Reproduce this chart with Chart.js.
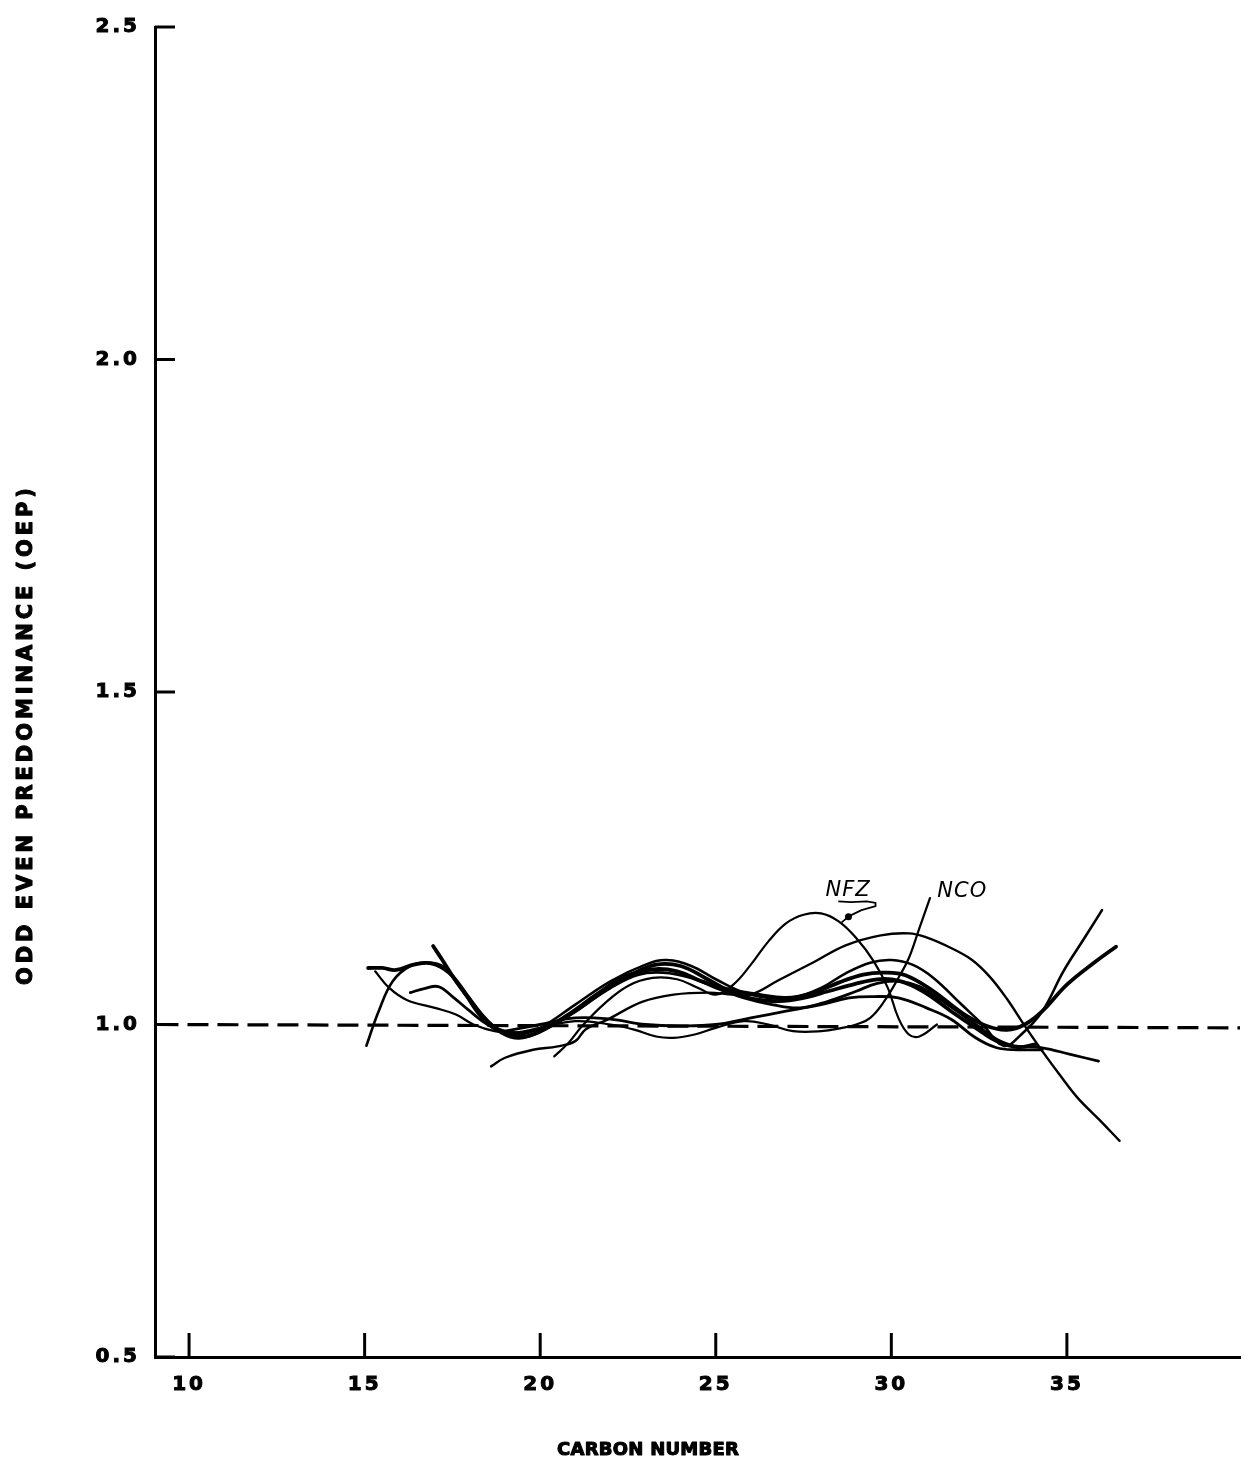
<!DOCTYPE html>
<html>
<head>
<meta charset="utf-8">
<script src="https://cdn.jsdelivr.net/npm/chart.js@4/dist/chart.umd.min.js"></script>
<style>
html,body{margin:0;padding:0;background:#fff;}
#wrap{width:1244px;height:1458px;position:relative;}
canvas{display:block;}
</style>
</head>
<body>
<div id="wrap"><canvas id="c" width="1244" height="1458"></canvas></div>
<script>
// ---------- DATA ----------
const xTickValues = [10, 15, 20, 25, 30, 35];
const yTickValues = [0.5, 1.0, 1.5, 2.0, 2.5];

const refLineCarbon = [9.1, 39.93];
const refLineOep    = [1.0, 0.995];

const c1Carbon = [15.05,15.4,15.8,16.3,16.8,17.3,17.8,18.3,18.8,19.4,20.0,21.0,22.0,23.0,23.6,24.3,25.0,25.8,26.5,27.2,28.0,28.7,29.4,30.0,30.6,31.2,32.0,32.6,33.2,33.7,34.3,34.9,35.5,36.0];
const c1Oep    = [0.968,1.02,1.065,1.088,1.093,1.085,1.05,1.012,0.99,0.985,0.995,1.03,1.065,1.09,1.097,1.088,1.068,1.048,1.04,1.04,1.055,1.077,1.093,1.097,1.09,1.07,1.03,1.0,0.968,0.985,1.02,1.08,1.13,1.172];

const c2Carbon = [15.1,15.5,15.9,16.4,16.9,17.4,17.9,18.4,18.9,19.4,20.0,20.8,21.6,22.4,23.2,23.9,24.6,25.4,26.2,27.0,27.8,28.5,29.2,29.8,30.4,31.2,32.0,32.7,33.3,33.8,34.3,35.0,35.8,36.4];
const c2Oep    = [1.085,1.085,1.082,1.09,1.092,1.078,1.045,1.01,0.988,0.98,0.99,1.015,1.045,1.072,1.083,1.08,1.065,1.052,1.045,1.04,1.048,1.063,1.075,1.078,1.074,1.05,1.018,0.998,0.992,1.0,1.02,1.06,1.094,1.117];

const c3Carbon = [15.3,15.7,16.2,17.0,17.6,18.1,18.7,19.3,20.0,21.0,22.0,22.7,23.3,23.8,24.4,25.0,25.8,26.5,27.2,28.0,28.6,29.0,29.4,29.8,30.2,30.5,30.8,31.1];
const c3Oep    = [1.08,1.055,1.037,1.025,1.015,1.0,0.99,0.988,0.995,1.005,1.0,0.992,0.982,0.98,0.985,0.995,1.005,1.0,0.99,0.99,0.995,1.0,1.01,1.035,1.07,1.1,1.145,1.19];

const c4Carbon = [16.3,16.7,17.1,17.5,18.0,18.5,19.0,19.5,20.2,21.0,22.0,22.8,23.5,24.3,25.0,25.8,26.6,27.4,28.2,29.0,29.6,30.2,30.8,31.6,32.4,33.0,33.5,34.3,35.1,35.9];
const c4Oep    = [1.048,1.054,1.057,1.042,1.02,1.0,0.99,0.988,0.997,1.02,1.055,1.075,1.078,1.07,1.055,1.04,1.03,1.025,1.035,1.05,1.062,1.065,1.057,1.03,1.0,0.978,0.968,0.965,0.955,0.945];

const c5Carbon = [16.95,17.2,17.6,18.1,18.6,19.1,19.6,20.2,21.0,21.8,22.6,23.3,24.0,24.7,25.4,26.1,26.8,27.5,28.2,28.9,29.6,30.2,30.9,31.7,32.4,33.0,33.6,34.1];
const c5Oep    = [1.118,1.098,1.065,1.03,1.0,0.985,0.982,0.995,1.02,1.05,1.075,1.09,1.088,1.07,1.05,1.038,1.035,1.04,1.05,1.06,1.068,1.066,1.05,1.02,0.995,0.975,0.966,0.97];

const c6Carbon = [18.6,19.0,19.8,20.5,21.0,21.3,21.9,22.9,23.8,24.8,25.5,26.0,26.8,27.8,28.7,29.7,30.5,31.0,31.7,32.3,32.8,33.3,33.8,34.3,34.8,35.3,35.9,36.5];
const c6Oep    = [0.937,0.95,0.962,0.967,0.975,0.993,1.007,1.034,1.045,1.048,1.045,1.045,1.067,1.094,1.119,1.134,1.137,1.131,1.115,1.097,1.072,1.038,0.998,0.96,0.924,0.89,0.858,0.825];

const c7Carbon = [20.4,20.8,21.2,21.8,22.5,23.2,23.9,24.5,25.0,25.5,26.0,26.5,27.0,27.5,28.0,28.5,29.0,29.5,29.9,30.2,30.5,30.8,31.3];
const c7Oep    = [0.952,0.972,0.998,1.03,1.058,1.07,1.068,1.055,1.045,1.06,1.09,1.125,1.152,1.165,1.167,1.155,1.13,1.095,1.055,1.01,0.985,0.982,1.0];

const c8Carbon = [19.0,20.0,21.0,22.0,23.0,24.0,25.0,26.0,27.0,28.0,28.8,29.5,30.2,31.0,31.7,32.4,33.0,33.6,34.3];
const c8Oep    = [0.99,1.0,1.01,1.008,1.0,0.998,1.0,1.01,1.02,1.03,1.04,1.042,1.04,1.025,1.008,0.98,0.965,0.962,0.962];

const curveCarbon = [c1Carbon, c2Carbon, c3Carbon, c4Carbon, c5Carbon, c6Carbon, c7Carbon, c8Carbon];
const curveOep    = [c1Oep, c2Oep, c3Oep, c4Oep, c5Oep, c6Oep, c7Oep, c8Oep];
const curveWidths = [2.6, 3.8, 2.2, 2.8, 3.8, 2.4, 2.2, 2.8];

// ---------- helpers ----------
const toPoints = (xs, ys) => xs.map((x, i) => ({x: x, y: ys[i]}));

const datasets = curveCarbon.map((xs, i) => ({
  data: toPoints(xs, curveOep[i]),
  borderColor: '#000',
  borderWidth: curveWidths[i],
  pointRadius: 0,
  tension: 0.4,
  fill: false,
  borderCapStyle: 'round',
  borderJoinStyle: 'round'
}));
datasets.push({
  data: toPoints(refLineCarbon, refLineOep),
  borderColor: '#000',
  borderWidth: 3.2,
  borderDash: [21, 9],
  pointRadius: 0,
  tension: 0,
  fill: false
});

// annotation geometry in data units
const nfzLabel = {text: 'NFZ', x: 28.77, y: 1.201};
const ncoLabel = {text: 'NCO', x: 32.02, y: 1.200};
const nfzLeader = [[28.49,1.185],[28.85,1.184],[29.3,1.185],[29.55,1.183],[29.55,1.178],[29.15,1.172],[28.8,1.163],[28.55,1.152]];
const nfzArrow = [28.78, 1.162];

const FONT = '"DejaVu Sans", "Liberation Sans", sans-serif';

const decorPlugin = {
  id: 'decor',
  beforeDraw(chart) {
    chart.ctx.letterSpacing = '3px';
  },
  afterDraw(chart) {
    const ctx = chart.ctx;
    const xs = chart.scales.x, ys = chart.scales.y;
    ctx.save();
    ctx.letterSpacing = '0px';
    ctx.strokeStyle = '#000';
    ctx.fillStyle = '#000';
    // inward tick marks
    ctx.lineWidth = 3;
    xTickValues.forEach(v => {
      const px = xs.getPixelForValue(v);
      ctx.beginPath(); ctx.moveTo(px, xs.top); ctx.lineTo(px, xs.top - 24); ctx.stroke();
    });
    yTickValues.forEach(v => {
      const py = ys.getPixelForValue(v);
      ctx.beginPath(); ctx.moveTo(ys.right, py); ctx.lineTo(ys.right + 20, py); ctx.stroke();
    });

    // axis titles
    function spacedText(txt, font, targetW) {
      ctx.font = font;
      ctx.letterSpacing = '0px';
      const w = ctx.measureText(txt).width;
      const sp = (targetW - w) / (txt.length - 1);
      ctx.letterSpacing = sp.toFixed(2) + 'px';
      return sp;
    }
    ctx.textBaseline = 'alphabetic';
    ctx.textAlign = 'left';
    ctx.lineWidth = 1.1;
    ctx.lineJoin = 'round';
    spacedText('CARBON NUMBER', 'bold 18px ' + FONT, 182);
    ctx.fillText('CARBON NUMBER', 557, 1455);
    ctx.strokeText('CARBON NUMBER', 557, 1455);

    ctx.save();
    ctx.translate(32, 985);
    ctx.rotate(-Math.PI / 2);
    spacedText('ODD EVEN PREDOMINANCE (OEP)', 'bold 21px ' + FONT, 497);
    ctx.fillText('ODD EVEN PREDOMINANCE (OEP)', 0, 0);
    ctx.strokeText('ODD EVEN PREDOMINANCE (OEP)', 0, 0);
    ctx.restore();

    // annotations
    ctx.letterSpacing = '1px';
    ctx.font = 'italic 21px ' + FONT;
    ctx.textAlign = 'center';
    ctx.textBaseline = 'middle';
    ctx.fillText(nfzLabel.text, xs.getPixelForValue(nfzLabel.x), ys.getPixelForValue(nfzLabel.y));
    ctx.fillText(ncoLabel.text, xs.getPixelForValue(ncoLabel.x), ys.getPixelForValue(ncoLabel.y));
    ctx.lineWidth = 1.8;
    ctx.beginPath();
    nfzLeader.forEach((p, i) => {
      const px = xs.getPixelForValue(p[0]), py = ys.getPixelForValue(p[1]);
      if (i === 0) ctx.moveTo(px, py); else ctx.lineTo(px, py);
    });
    ctx.stroke();
    ctx.beginPath();
    ctx.arc(xs.getPixelForValue(nfzArrow[0]), ys.getPixelForValue(nfzArrow[1]), 3.5, 0, Math.PI * 2);
    ctx.fill();
    ctx.restore();
    ctx.letterSpacing = '0px';
  }
};

const tickFont = {family: FONT, weight: 'bold', size: 20};

new Chart(document.getElementById('c'), {
  type: 'line',
  data: {datasets: datasets},
  plugins: [decorPlugin],
  options: {
    responsive: false,
    animation: false,
    devicePixelRatio: 1,
    layout: {padding: {top: 17, right: 4, left: 0, bottom: 0}},
    plugins: {legend: {display: false}, tooltip: {enabled: false}},
    scales: {
      x: {
        type: 'linear',
        min: 9.03,
        max: 39.93,
        afterBuildTicks: s => { s.ticks = xTickValues.map(v => ({value: v})); },
        afterFit: s => { s.height = 101; },
        grid: {display: false, drawTicks: false},
        border: {display: true, color: '#000', width: 3},
        ticks: {
          color: '#000',
          font: tickFont,
          textStrokeColor: '#000',
          textStrokeWidth: 1,
          padding: 16,
          autoSkip: false,
          maxRotation: 0,
          callback: v => String(v)
        }
      },
      y: {
        type: 'linear',
        min: 0.5,
        max: 2.5,
        afterBuildTicks: s => { s.ticks = yTickValues.map(v => ({value: v})); },
        afterFit: s => { s.width = 155; },
        grid: {display: false, drawTicks: false},
        border: {display: true, color: '#000', width: 3},
        ticks: {
          color: '#000',
          font: tickFont,
          textStrokeColor: '#000',
          textStrokeWidth: 1,
          padding: 15,
          autoSkip: false,
          callback: v => Number(v).toFixed(1)
        }
      }
    }
  }
});
</script>
</body>
</html>
